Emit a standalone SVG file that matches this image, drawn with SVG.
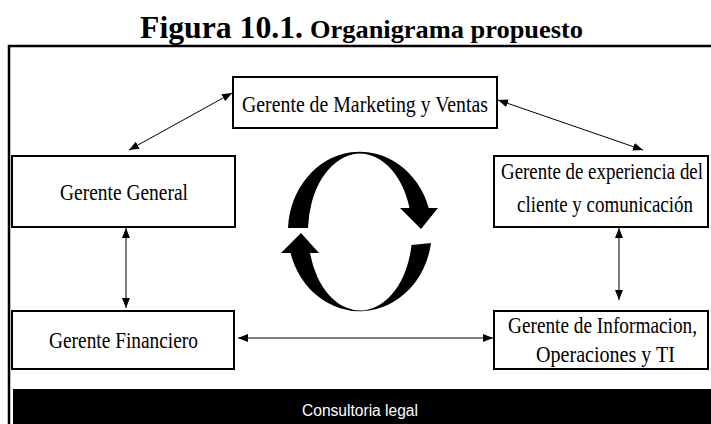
<svg xmlns="http://www.w3.org/2000/svg" width="711" height="424" viewBox="0 0 711 424">
<defs>
<style>
.box{fill:#fff;stroke:#000;stroke-width:2}
.t{font-family:"Liberation Serif","Times New Roman",serif;font-size:23.5px;fill:#000}
.c{stroke:#000;stroke-width:1;fill:none;marker-start:url(#ah);marker-end:url(#ah)}
</style>
<marker id="ah" viewBox="0 0 10 8" refX="10" refY="4" markerWidth="10" markerHeight="8" markerUnits="userSpaceOnUse" orient="auto-start-reverse">
<path d="M0,0 L10,4 L0,8 Z" fill="#000"/>
</marker>
</defs>
<rect width="711" height="424" fill="#fff"/>
<g id="title" font-family="Liberation Serif,'Times New Roman',serif" font-weight="bold">
<text x="140" y="38" font-size="32" textLength="163" lengthAdjust="spacingAndGlyphs">Figura 10.1.</text>
<text x="310" y="38" font-size="26" textLength="273" lengthAdjust="spacingAndGlyphs">Organigrama propuesto</text>
</g>
<g id="frame">
<path d="M9,424 V46 H711" fill="none" stroke="#000" stroke-width="2.5"/>
</g>
<g id="marketing">
<rect class="box" x="233" y="77" width="264" height="51"/>
<text class="t" x="242" y="112" textLength="246" lengthAdjust="spacingAndGlyphs">Gerente de Marketing y Ventas</text>
</g>
<g id="general">
<rect class="box" x="12" y="156" width="223" height="71"/>
<text class="t" x="60" y="200" textLength="128" lengthAdjust="spacingAndGlyphs">Gerente General</text>
</g>
<g id="experiencia">
<rect class="box" x="494" y="156" width="214" height="71"/>
<text class="t" x="501" y="179" textLength="202" lengthAdjust="spacingAndGlyphs">Gerente de experiencia del</text>
<text class="t" x="517" y="212" textLength="176" lengthAdjust="spacingAndGlyphs">cliente y comunicación</text>
</g>
<g id="financiero">
<rect class="box" x="12" y="311" width="222" height="58"/>
<text class="t" x="49" y="348" textLength="149" lengthAdjust="spacingAndGlyphs">Gerente Financiero</text>
</g>
<g id="informacion">
<rect class="box" x="494" y="311" width="214" height="58"/>
<text class="t" x="508" y="333" textLength="189" lengthAdjust="spacingAndGlyphs">Gerente de Informacion,</text>
<text class="t" x="536" y="362" textLength="139" lengthAdjust="spacingAndGlyphs">Operaciones y TI</text>
</g>
<g id="ciclo" fill="#000">
<path d="M288,228 A72,80 0 0 1 428.7,208 L438,208 L421,229 L400,208 L409.5,208 A52,78 0 0 0 308,228 Z"/>
<path d="M431,243 A72,80 0 0 1 290.5,253 L281,253 L301,233 L319,253 L310,253 A52,78 0 0 0 411.5,245 Z"/>
</g>
<g id="consultoria">
<rect x="13" y="389" width="698" height="35" fill="#000"/>
<text x="360" y="416" text-anchor="middle" font-family="Liberation Sans,Arial,sans-serif" font-size="16" fill="#fff" textLength="116" lengthAdjust="spacingAndGlyphs">Consultoria legal</text>
</g>
<g id="connectors">
<line class="c" x1="232" y1="93" x2="129" y2="150"/>
<line class="c" x1="498" y1="100" x2="643" y2="150"/>
<line class="c" x1="126" y1="228" x2="126" y2="308"/>
<line class="c" x1="619" y1="228" x2="619" y2="300"/>
<line class="c" x1="238" y1="338" x2="493" y2="338"/>
</g>
</svg>
